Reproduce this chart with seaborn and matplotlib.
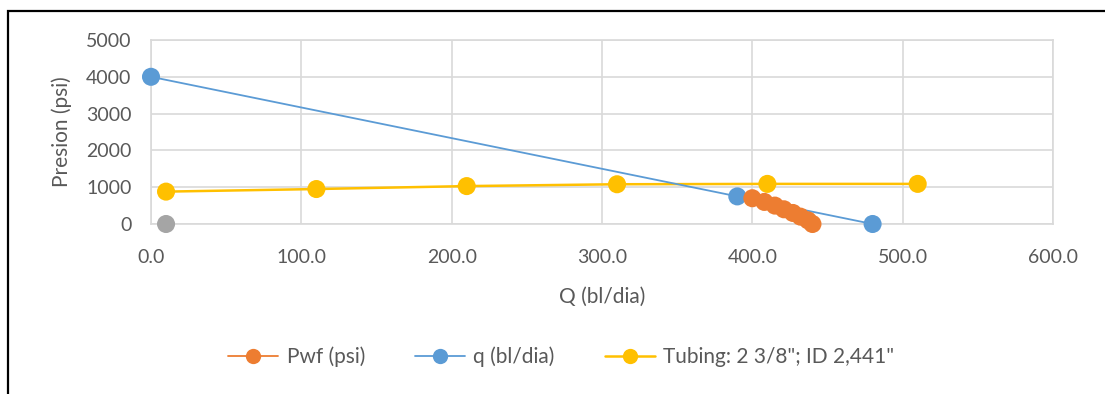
import numpy as np
import pandas as pd
import matplotlib
matplotlib.use("Agg")
import matplotlib.pyplot as plt
import matplotlib.patches as mpatches
import matplotlib.patheffects as pe
from matplotlib.lines import Line2D
import seaborn as sns

# data
pwf_q = [400, 408, 415, 421, 427, 432, 437, 440]
pwf_p = [700, 600, 500, 400, 300, 200, 100, 0]

ipr_q = [0, 390, 480]
ipr_p = [4000, 750, 0]

tubing_q = [10, 110, 210, 310, 410, 510]
tubing_p = [880, 950, 1030, 1080, 1090, 1090]

extra_q = [10]
extra_p = [0]

series = [
    ("Pwf (psi)", pwf_q, pwf_p, "#ED7D31", 1.3),
    ("q (bl/dia)", ipr_q, ipr_p, "#5B9BD5", 1.3),
    ("Tubing: 2 3/8\"; ID 2,441\"", tubing_q, tubing_p, "#FFC000", 1.8),
]
text_color = "#595959"


def main():
    sns.set_style("white")
    plt.rcParams["font.family"] = ["Lato", "DejaVu Sans"]

    fig = plt.figure(figsize=(11.05, 3.94), dpi=100)
    ax = fig.add_axes([151 / 1105, 1 - 224 / 394, (1053 - 151) / 1105, (224 - 40) / 394])

    shadow = [pe.SimpleLineShadow(offset=(1.5, -2.5), alpha=0.3, shadow_color="#444444"), pe.Normal()]

    # lines first, then markers with a soft shadow (orange on top)
    for name, q, p, color, lw in [series[2], series[1], series[0]]:
        df = pd.DataFrame({"q": q, "p": p})
        sns.lineplot(data=df, x="q", y="p", ax=ax, sort=False, color=color, lw=lw,
                     clip_on=False, zorder=3, legend=False)
    ax.plot(extra_q, extra_p, "o", color="#A5A5A5", markersize=13, markeredgewidth=0,
            clip_on=False, zorder=4, path_effects=shadow)
    for name, q, p, color, lw in [series[2], series[1], series[0]]:
        ax.plot(q, p, "o", color=color, markersize=13, markeredgewidth=0,
                clip_on=False, zorder=4, path_effects=shadow)

    handles = [Line2D([], [], color=color, lw=lw, marker="o", markersize=11,
                      markeredgewidth=0, label=name)
               for name, q, p, color, lw in series]

    ax.set_xlim(0, 600)
    ax.set_ylim(0, 5000)
    ax.set_xticks(np.arange(0, 601, 100))
    ax.set_yticks(np.arange(0, 5001, 1000))
    ax.set_xticklabels([f"{v:.1f}" for v in np.arange(0, 601, 100)])
    ax.grid(True, color="#D9D9D9", lw=1.2)
    ax.set_axisbelow(True)
    for s in ax.spines.values():
        s.set_color("#D9D9D9")
        s.set_linewidth(1.2)
    ax.tick_params(axis="x", length=0, labelsize=14, colors=text_color, pad=18)
    ax.tick_params(axis="y", length=0, labelsize=14, colors=text_color, pad=14)
    ax.set_xlabel("Q (bl/dia)", fontsize=15, color=text_color, labelpad=15)
    ax.set_ylabel("Presion (psi)", fontsize=15, color=text_color, labelpad=10)

    fig.legend(handles=handles, loc="center", bbox_to_anchor=(0.508, 1 - 357 / 394),
               ncol=3, frameon=False, fontsize=15, labelcolor=text_color,
               handlelength=2.4, handletextpad=0.4, columnspacing=2.4)

    # outer frame (only left and top edges visible in the crop)
    fig.add_artist(mpatches.Rectangle((8 / 1105, -0.2), 1.2, 1.2 - 11 / 394,
                                      transform=fig.transFigure, fill=False,
                                      edgecolor="black", lw=1.6))

    fig.savefig("out.png", dpi=100)
    plt.close(fig)


if __name__ == "__main__":
    main()
